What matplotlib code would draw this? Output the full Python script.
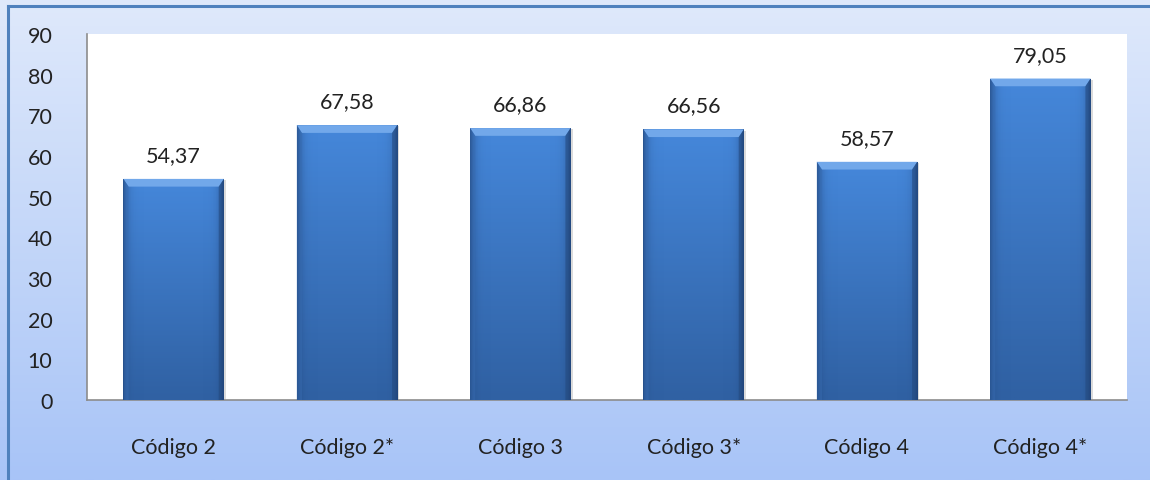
import matplotlib.pyplot as plt
import numpy as np
from matplotlib.colors import LinearSegmentedColormap
from matplotlib.patches import Polygon

plt.rcParams["font.family"] = ["Lato", "DejaVu Sans"]

categories = ["Código 2", "Código 2*", "Código 3", "Código 3*", "Código 4", "Código 4*"]
values = [54.37, 67.58, 66.86, 66.56, 58.57, 79.05]
labels = ["54,37", "67,58", "66,86", "66,56", "58,57", "79,05"]
yticks = [0, 10, 20, 30, 40, 50, 60, 70, 80, 90]

fig = plt.figure(figsize=(11.5, 4.81), dpi=100)

# background gradient for the whole chart
bg = fig.add_axes([0, 0, 1, 1], zorder=-10)
grad = np.linspace(0, 1, 256).reshape(-1, 1)
bg_cmap = LinearSegmentedColormap.from_list("bg", ["#a8c4f7", "#dfe9fb"])
bg.imshow(grad, aspect="auto", cmap=bg_cmap, origin="lower", extent=[0, 1, 0, 1])
bg.set_xlim(0, 1)
bg.set_ylim(0, 1)
bg.axis("off")
# frame on left and top
bg.plot([8 / 1150, 8 / 1150], [0, 1 - 7 / 481], color="#4f81bd", lw=2.2)
bg.plot([8 / 1150, 1], [1 - 7 / 481, 1 - 7 / 481], color="#4f81bd", lw=2.2)

ax = fig.add_axes([87 / 1150, 1 - 401 / 481, 1040 / 1150, 366 / 481])
ax.set_facecolor("white")

x = np.arange(len(categories))
bars = ax.bar(x, values, width=0.58, color="#4180d0", zorder=2)

vert = LinearSegmentedColormap.from_list("v", ["#3061a3", "#4587da"])
edge_cmap = LinearSegmentedColormap.from_list(
    "e", [(0.17, 0.35, 0.6, 0.0), (0.12, 0.26, 0.47, 0.85)])

for b in bars:
    x0, w, h = b.get_x(), b.get_width(), b.get_height()
    # shadow
    ax.bar(x0 + w / 2 + 0.012, h - 0.3, width=w, bottom=0, color="#9a9a9a",
           alpha=0.35, zorder=1)
    # vertical gradient
    img = np.linspace(0, 1, 64).reshape(-1, 1) * np.ones((1, 64))
    im = ax.imshow(img, cmap=vert, origin="lower", aspect="auto",
                   extent=[x0, x0 + w, 0, h], zorder=3)
    im.set_clip_path(b)
    # darker side edges
    edge = np.abs(np.linspace(-1, 1, 64)) ** 10
    shade = np.ones((2, 1)) * edge.reshape(1, -1)
    im2 = ax.imshow(shade, cmap=edge_cmap, origin="lower", aspect="auto",
                    extent=[x0, x0 + w, 0, h], zorder=4)
    im2.set_clip_path(b)
    # top bevel
    bev = 1.9
    dx = 0.03
    top = Polygon([[x0, h], [x0 + w, h], [x0 + w - dx, h - bev], [x0 + dx, h - bev]],
                  closed=True, color="#72a8ea", zorder=5, lw=0)
    ax.add_patch(top)
    side_l = Polygon([[x0, h], [x0 + dx, h - bev], [x0 + dx, 0], [x0, 0]],
                     closed=True, color="#3a6fb5", alpha=0.45, zorder=5, lw=0)
    ax.add_patch(side_l)
    side_r = Polygon([[x0 + w, h], [x0 + w - dx, h - bev], [x0 + w - dx, 0], [x0 + w, 0]],
                     closed=True, color="#24497d", alpha=0.55, zorder=5, lw=0)
    ax.add_patch(side_r)

for xi, v, lab in zip(x, values, labels):
    ax.annotate(lab, (xi, v), xytext=(0, 10), textcoords="offset points",
                ha="center", va="bottom", fontsize=15.5, color="#222222")

ax.set_xlim(-0.5, len(categories) - 0.5)
ax.set_ylim(0, 90)
ax.set_yticks(yticks)
ax.set_yticklabels([str(t) for t in yticks])
ax.set_xticks(x)
ax.set_xticklabels(categories)
ax.tick_params(axis="y", length=0, pad=25, labelsize=15.5, labelcolor="#222222")
ax.tick_params(axis="x", length=0, pad=27, labelsize=15.5, labelcolor="#222222")
for s in ["top", "right"]:
    ax.spines[s].set_visible(False)
ax.spines["left"].set_color("#8c8c8c")
ax.spines["bottom"].set_color("#8c8c8c")
ax.spines["left"].set_linewidth(1.2)
ax.spines["bottom"].set_linewidth(1.2)

fig.savefig("out.png", dpi=100)
